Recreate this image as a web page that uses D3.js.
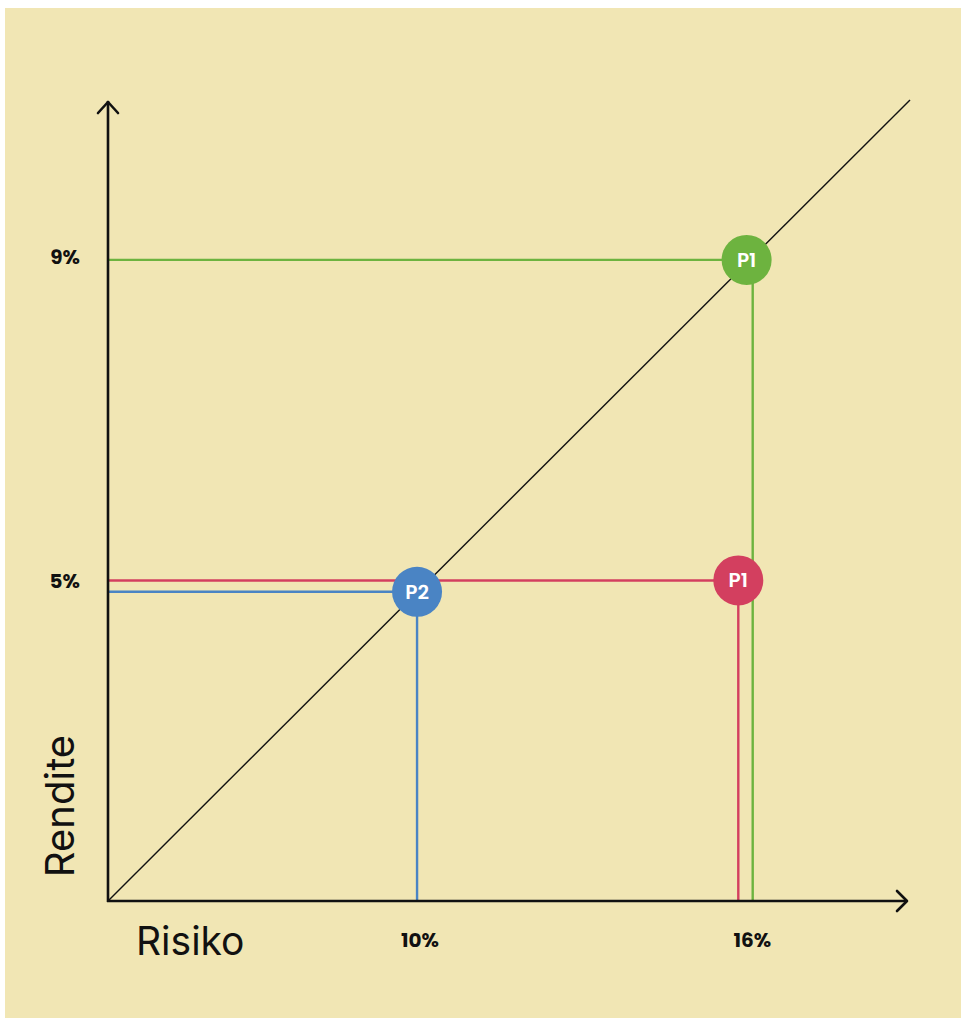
<!DOCTYPE html>
<html>
<head>
<meta charset="utf-8">
<script src="https://cdn.jsdelivr.net/npm/d3@7"></script>
<style>
  html, body { margin: 0; padding: 0; background: #ffffff; }
  svg { display: block; }
</style>
</head>
<body>
<svg id="chart" width="961" height="1019"></svg>
<script>
// ---- data ----
const xTicks = [10, 16];
const xTickLabels = ["10%", "16%"];
const yTicks = [9, 5];
const yTickLabels = ["9%", "5%"];
const pointNames = ["P1", "P1", "P2"];
const pointRisk = [15.95, 15.8, 10];
const pointReturn = [9.0, 5.05, 4.91];
const guideRisk = [16.06, 15.8, 10];
const guideReturn = [9.0, 5.05, 4.91];
const pointColors = ["#6db33f", "#d33f5f", "#4a84c4"];
const xDomain = [4.42, 18.9];
const yDomain = [1.1, 10.97];
const xTitle = "Risiko";
const yTitle = "Rendite";

// ---- drawing ----
const svg = d3.select("#chart");
svg.append("rect").attr("x", 5).attr("y", 8).attr("width", 956).attr("height", 1010).attr("fill", "#f1e6b4");

const x = d3.scaleLinear().domain(xDomain).range([108, 910]);
const y = d3.scaleLinear().domain(yDomain).range([901, 100]);

const ox = x(xDomain[0]), oy = y(yDomain[0]);

// diagonal
svg.append("line")
  .attr("x1", x(xDomain[0])).attr("y1", y(yDomain[0]))
  .attr("x2", x(xDomain[1])).attr("y2", y(yDomain[1]))
  .attr("stroke", "#111").attr("stroke-width", 1.4);

const pts = pointNames.map((n, i) => ({
  name: n, risk: pointRisk[i], ret: pointReturn[i],
  gRisk: guideRisk[i], gRet: guideReturn[i], color: pointColors[i]
}));

// guide lines
const g = svg.append("g");
pts.forEach(p => {
  g.append("line").attr("x1", ox).attr("x2", x(p.risk)).attr("y1", y(p.gRet)).attr("y2", y(p.gRet))
    .attr("stroke", p.color).attr("stroke-width", 2.4);
  g.append("line").attr("x1", x(p.gRisk)).attr("x2", x(p.gRisk)).attr("y1", y(p.ret)).attr("y2", oy)
    .attr("stroke", p.color).attr("stroke-width", 2.4);
});

// axes
const axisColor = "#111";
svg.append("line").attr("x1", ox).attr("y1", oy + 1).attr("x2", ox).attr("y2", 101)
  .attr("stroke", axisColor).attr("stroke-width", 2.6);
svg.append("path").attr("d", `M${ox - 10},${113} L${ox},${102} L${ox + 10},${113}`)
  .attr("fill", "none").attr("stroke", axisColor).attr("stroke-width", 2.6).attr("stroke-linecap", "round").attr("stroke-linejoin", "round");
svg.append("line").attr("x1", ox - 1).attr("y1", oy).attr("x2", 907).attr("y2", oy)
  .attr("stroke", axisColor).attr("stroke-width", 2.6);
svg.append("path").attr("d", `M${897},${oy - 10} L${907},${oy} L${897},${oy + 10}`)
  .attr("fill", "none").attr("stroke", axisColor).attr("stroke-width", 2.6).attr("stroke-linecap", "round").attr("stroke-linejoin", "round");

// tick labels
const fontStack = "Poppins, Inter, 'Open Sans', sans-serif";
svg.selectAll("text.xt").data(xTicks).enter().append("text")
  .attr("x", (d) => x(d) + 3).attr("y", 947)
  .attr("text-anchor", "middle")
  .attr("font-family", fontStack).attr("font-size", 20).attr("font-weight", 700).attr("fill", "#111")
  .text((d, i) => xTickLabels[i]);
svg.selectAll("text.yt").data(yTicks).enter().append("text")
  .attr("x", 80).attr("y", (d) => y(d) + 4)
  .attr("text-anchor", "end")
  .attr("font-family", fontStack).attr("font-size", 20).attr("font-weight", 700).attr("fill", "#111")
  .text((d, i) => yTickLabels[i]);

// titles
svg.append("text").attr("x", 136).attr("y", 955)
  .attr("font-family", "Inter, 'Open Sans', sans-serif").attr("font-size", 39).attr("fill", "#111")
  .text(xTitle);
svg.append("text").attr("transform", "translate(74,806) rotate(-90)")
  .attr("text-anchor", "middle")
  .attr("font-family", "Inter, 'Open Sans', sans-serif").attr("font-size", 40).attr("fill", "#111")
  .text(yTitle);

// points
const pg = svg.append("g");
pts.forEach(p => {
  pg.append("circle").attr("cx", x(p.risk)).attr("cy", y(p.ret)).attr("r", 25).attr("fill", p.color);
  pg.append("text").attr("x", x(p.risk)).attr("y", y(p.ret) + 7)
    .attr("text-anchor", "middle")
    .attr("font-family", fontStack).attr("font-size", 20).attr("font-weight", 600).attr("fill", "#ffffff")
    .text(p.name);
});
</script>
</body>
</html>
